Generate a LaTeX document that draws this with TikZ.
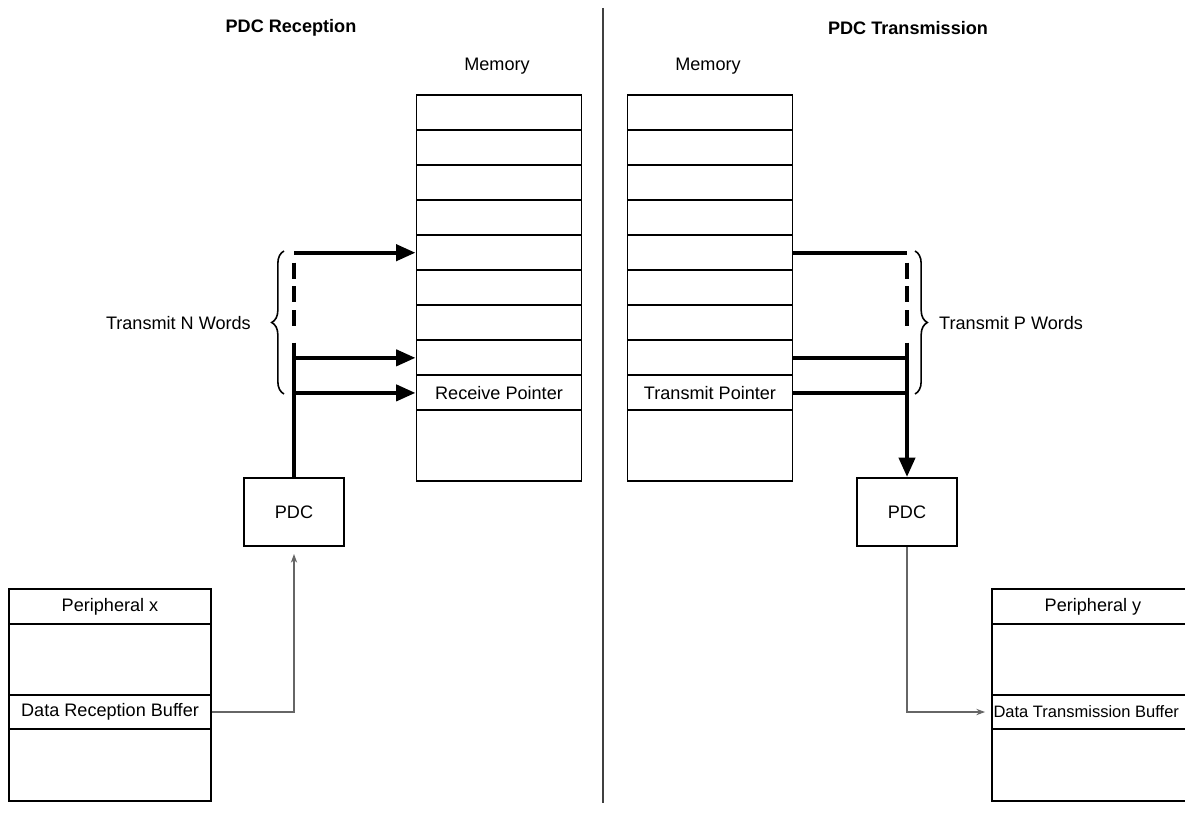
\documentclass[tikz,border=0pt]{standalone}
\usepackage{fontspec}
\setmainfont{Liberation Sans}
\usetikzlibrary{arrows.meta,positioning,calc,decorations.pathreplacing}
\begin{document}
\begin{tikzpicture}[x=0.02cm,y=-0.02cm,>=Stealth,font=\fontsize{10.3}{12}\selectfont,
   cell/.style={draw,line width=1.1pt,minimum width=3.3cm,minimum height=0.701cm,inner sep=0pt},
   pcell/.style={cell,minimum width=4.04cm},
   pdc/.style={draw,line width=1.1pt,minimum width=2cm,minimum height=1.36cm},
   big/.style={line width=2.4pt},
   bigarr/.style={big,-{Triangle[length=11pt,width=9pt]}},
   dsh/.style={big,dash pattern=on 9pt off 4.5pt},
   thinarr/.style={draw=black!60,line width=0.6pt,-{Stealth[length=5pt,width=3.6pt]}},
   brc/.style={decorate,decoration={brace,amplitude=7pt},line width=0.9pt}]
  \path[use as bounding box,clip] (0,0) rectangle (1185,814);
  % titles and divider
  \node[font=\bfseries\fontsize{10.3}{12}\selectfont] (trx) at (291,28) {PDC Reception};
  \node[font=\bfseries\fontsize{10.3}{12}\selectfont] (ttx) at (908,28) {PDC Transmission};
  \draw[line width=1.3pt,black!75] (603,8) -- (603,803);
  % memories
  \node (mrx) at (497,66) {Memory};
  \node (mtx) at (708,66) {Memory};
  \foreach \i in {0,...,8} {
    \node[cell] (rm\i) at (499,{112.5+35.05*\i}) {};
    \node[cell] (tm\i) at (710,{112.5+35.05*\i}) {};
  }
  \node[cell,minimum height=1.41cm] (rm9) at (499,445.7) {};
  \node[cell,minimum height=1.41cm] (tm9) at (710,445.7) {};
  \node (rptr) at (rm8) {Receive Pointer};
  \node (tptr) at (tm8) {Transmit Pointer};
  % PDCs
  \node[pdc] (lpdc) at (294,512) {PDC};
  \node[pdc] (rpdc) at (907,512) {PDC};
  % peripherals
  \node[pcell] (px0) at (110,606.5) {Peripheral x};
  \node[pcell,minimum height=1.42cm] (px1) at (110,659.5) {};
  \node[pcell,minimum height=0.68cm] (px2) at (110,712) {Data Reception Buffer};
  \node[pcell,minimum height=1.44cm] (px3) at (110,765) {};
  \node[pcell] (py0) at (1093,606.5) {Peripheral y};
  \node[pcell,minimum height=1.42cm] (py1) at (1093,659.5) {};
  \node[pcell,minimum height=0.68cm] (py2) at (1093,712) {};
  \node[anchor=west,inner sep=1.2pt,font=\fontsize{9.4}{11}\selectfont] (pyb) at (py2.west) {Data Transmission Buffer};
  \node[pcell,minimum height=1.44cm] (py3) at (1093,765) {};
  % reception: PDC writes N words
  \coordinate (ltop) at (lpdc.north |- rm4.west);
  \draw[bigarr] (ltop) -- (rm4.west);
  \draw[dsh] ($(ltop)+(0,10)$) -- ($(ltop)+(0,76)$);
  \draw[big] ($(ltop)+(0,90)$) -- (lpdc.north);
  \draw[bigarr] (lpdc.north |- rm7.west) -- (rm7.west);
  \draw[bigarr] (lpdc.north |- rm8.west) -- (rm8.west);
  \draw[brc] (284,394) -- (284,251);
  \node[anchor=east] (nw) at (257,323) {Transmit N Words};
  \draw[thinarr,shorten >=4pt] (px2.east) -| (lpdc.south);
  % transmission: PDC reads P words
  \coordinate (rtop) at (rpdc.north |- tm4.east);
  \draw[big] (tm4.east) -- (rtop);
  \draw[dsh] ($(rtop)+(0,10)$) -- ($(rtop)+(0,76)$);
  \draw[bigarr] ($(rtop)+(0,90)$) -- (rpdc.north);
  \draw[big] (tm7.east) -- (rpdc.north |- tm7.east);
  \draw[big] (tm8.east) -- (rpdc.north |- tm8.east);
  \draw[brc] (915,251) -- (915,394);
  \node[anchor=west] (pw) at (933,323) {Transmit P Words};
  \draw[thinarr,shorten >=3.4pt] (rpdc.south) |- (py2.west);
\end{tikzpicture}
\end{document}
